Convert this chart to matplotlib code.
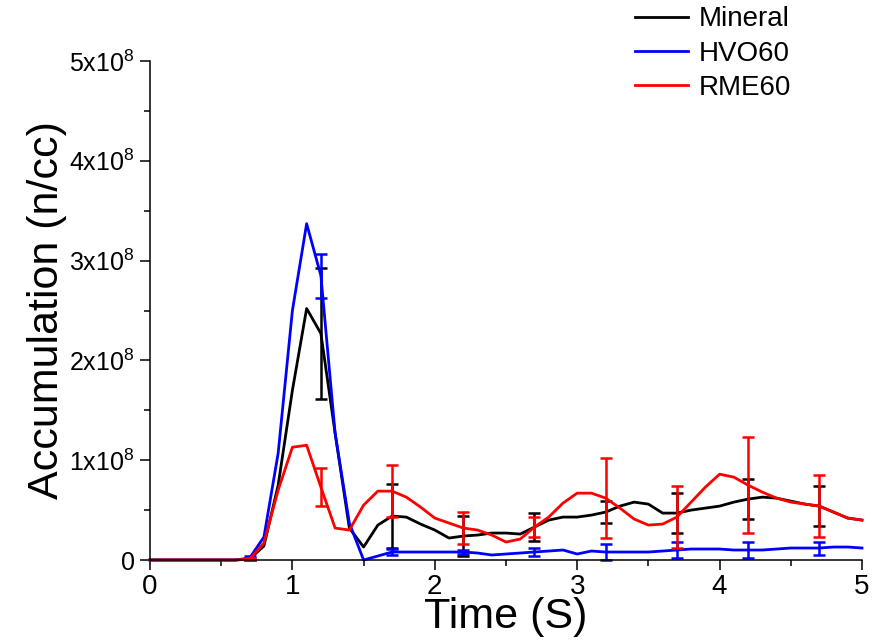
import numpy as np
import matplotlib
matplotlib.use("Agg")
import matplotlib.pyplot as plt

plt.rcParams["font.family"] = ["Liberation Sans", "DejaVu Sans"]
plt.rcParams["mathtext.fontset"] = "custom"
plt.rcParams["mathtext.rm"] = "Liberation Sans"

# time axis (s), one sample every 0.1 s
time_s = np.round(np.arange(0, 5.01, 0.1), 1)

# accumulation in units of 1e8 n/cc
mineral = [0, 0, 0, 0, 0, 0, 0, 0.01, 0.14, 0.75, 1.70, 2.52, 2.27, 1.27, 0.32, 0.13,
           0.35, 0.44, 0.43, 0.36, 0.30, 0.22, 0.24, 0.25, 0.27, 0.27, 0.26, 0.33,
           0.40, 0.43, 0.43, 0.45, 0.48, 0.54, 0.58, 0.56, 0.47, 0.47, 0.50, 0.52,
           0.54, 0.58, 0.61, 0.63, 0.62, 0.59, 0.56, 0.54, 0.48, 0.42, 0.40]
hvo60 = [0, 0, 0, 0, 0, 0, 0, 0.02, 0.23, 1.07, 2.50, 3.37, 2.85, 1.27, 0.37, 0.0,
         0.04, 0.08, 0.08, 0.08, 0.08, 0.08, 0.08, 0.07, 0.05, 0.06, 0.07, 0.08,
         0.09, 0.10, 0.06, 0.09, 0.08, 0.08, 0.08, 0.08, 0.09, 0.10, 0.11, 0.11,
         0.11, 0.10, 0.10, 0.10, 0.11, 0.12, 0.12, 0.12, 0.13, 0.13, 0.12]
rme60 = [0, 0, 0, 0, 0, 0, 0, 0.01, 0.17, 0.70, 1.13, 1.15, 0.73, 0.32, 0.30, 0.55,
         0.69, 0.69, 0.63, 0.53, 0.42, 0.37, 0.32, 0.30, 0.25, 0.18, 0.21, 0.33,
         0.43, 0.57, 0.67, 0.67, 0.62, 0.52, 0.41, 0.35, 0.36, 0.43, 0.58, 0.73,
         0.86, 0.83, 0.75, 0.68, 0.62, 0.58, 0.56, 0.54, 0.48, 0.42, 0.40]

# error bars every 0.5 s starting at 0.7 s
err_idx = np.arange(7, 48, 5)
mineral_err = [0.01, 0.66, 0.32, 0.20, 0.14, 0.11, 0.20, 0.20, 0.20]
hvo60_err = [0.02, 0.22, 0.03, 0.02, 0.04, 0.08, 0.08, 0.08, 0.065]
rme60_err = [0.01, 0.19, 0.26, 0.16, 0.10, 0.40, 0.31, 0.48, 0.31]

y_ticks = [0, 1, 2, 3, 4, 5]
y_ticklabels = ["0"] + [f"{v}x10$^8$" for v in y_ticks[1:]]

series = [("Mineral", mineral, mineral_err, "#000000"),
          ("HVO60", hvo60, hvo60_err, "#0000ff"),
          ("RME60", rme60, rme60_err, "#ff0000")]

fig = plt.figure(figsize=(8.82, 6.44), dpi=100)
ax = fig.add_axes([150/882, 1-560/644, 712/882, 499/644])

for name, vals, err, col in series:
    vals = np.array(vals)
    ax.plot(time_s, vals, color=col, lw=2.0, label=name, clip_on=False)
    ax.errorbar(time_s[err_idx], vals[err_idx], yerr=err, fmt="none", ecolor=col,
                elinewidth=1.8, capsize=4, capthick=1.8, clip_on=False)

ax.set_xlim(0, 5)
ax.set_ylim(0, 5)
ax.set_xticks(range(6))
ax.set_xticks(np.arange(0.5, 5, 1), minor=True)
ax.set_yticks(y_ticks)
ax.set_yticklabels(y_ticklabels)
ax.set_yticks(np.arange(0.5, 5, 1), minor=True)
ax.tick_params(axis="x", labelsize=20, pad=3)
ax.tick_params(axis="y", labelsize=18, pad=4)
ax.tick_params(which="major", direction="out", length=7, width=1.1)
ax.tick_params(which="minor", direction="out", length=4, width=1.1)

for s in ["top", "right"]:
    ax.spines[s].set_visible(False)
for s in ["left", "bottom"]:
    ax.spines[s].set_linewidth(1.1)

ax.set_xlabel("Time (S)", fontsize=31)
ax.xaxis.set_label_coords(0.5, -0.075)
ax.set_ylabel("Accumulation (n/cc)", fontsize=31)
ax.yaxis.set_label_coords(-0.117, 0.5)

ax.legend(loc="upper left", bbox_to_anchor=(0.72, 0.99), bbox_transform=fig.transFigure,
          frameon=False, fontsize=20, borderpad=0, borderaxespad=0, handlelength=1.9,
          handletextpad=0.4, labelspacing=0.3)

fig.savefig("out.png", dpi=100)
